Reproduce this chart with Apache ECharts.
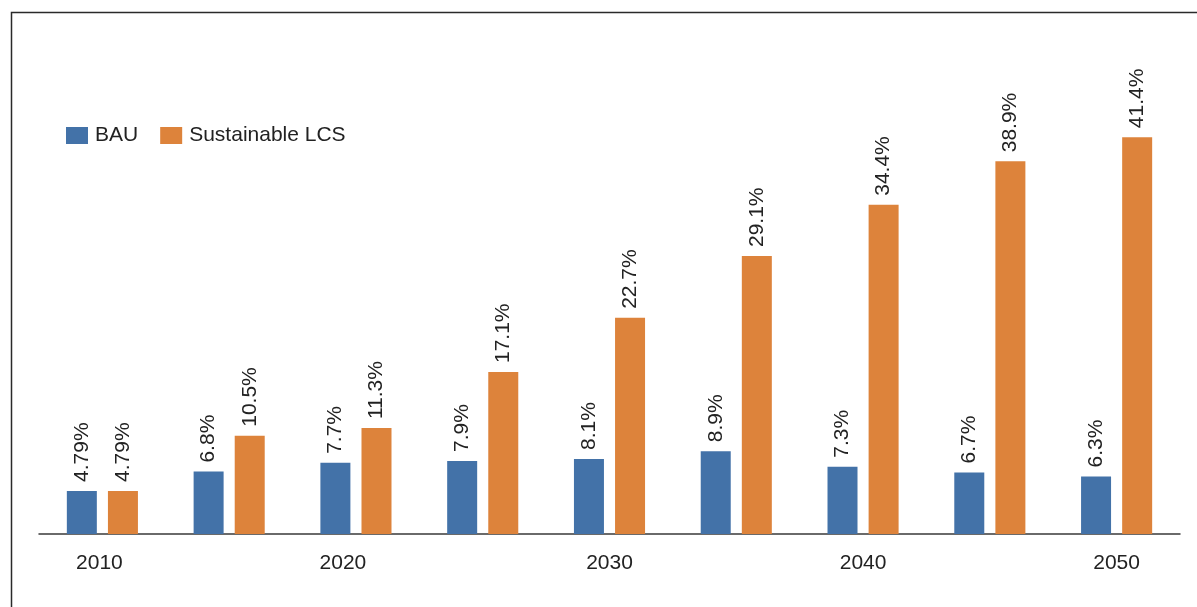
<!DOCTYPE html>
<html>
<head>
<meta charset="utf-8">
<script src="https://cdn.jsdelivr.net/npm/echarts@6/dist/echarts.min.js"></script>
<style>
html,body{margin:0;padding:0;background:#fff;}
#chart{width:1197px;height:607px;}
</style>
</head>
<body>
<div id="chart"></div>
<script>
const categories = ['2010','2015','2020','2025','2030','2035','2040','2045','2050'];
const bauValues = [4.79, 6.8, 7.7, 7.9, 8.1, 8.9, 7.3, 6.7, 6.3];
const lcsValues = [4.79, 10.5, 11.3, 17.1, 22.7, 29.1, 34.4, 38.9, 41.4];
const seriesNames = ['BAU', 'Sustainable LCS'];

const chart = echarts.init(document.getElementById('chart'), null, {renderer: 'canvas'});
const font = 'Liberation Sans, Arial, sans-serif';
const labelCfg = {
  show: true,
  position: 'top',
  rotate: 90,
  align: 'left',
  verticalAlign: 'middle',
  distance: 9,
  fontFamily: font,
  fontSize: 21,
  color: '#222',
  formatter: p => p.value + '%'
};
const catData = categories.map(c => c === '2020'
  ? {value: c, textStyle: {padding: [0, 26, 0, 0]}}
  : (c === '2010' ? {value: c, textStyle: {padding: [0, 6, 0, 0]}} : c));
chart.setOption({
  animation: false,
  backgroundColor: '#fff',
  graphic: [{
    type: 'rect',
    shape: {x: 11.5, y: 12.5, width: 1400, height: 800},
    style: {fill: 'none', stroke: '#2a2a2a', lineWidth: 1.5},
    silent: true
  }],
  legend: {
    left: 61,
    top: 120,
    icon: 'rect',
    itemWidth: 22,
    itemHeight: 17,
    itemGap: 22,
    textStyle: {fontFamily: font, fontSize: 21, color: '#222', padding: [0,0,0,2]},
    data: seriesNames
  },
  grid: {left: 39, right: 17, top: 54, bottom: 73},
  xAxis: {
    type: 'category',
    data: catData,
    axisLine: {lineStyle: {color: '#3a3a3a', width: 1.5}},
    axisTick: {show: false},
    axisLabel: {interval: 1, margin: 19, fontFamily: font, fontSize: 21, color: '#222'}
  },
  yAxis: {
    type: 'value',
    min: 0.34,
    max: 50,
    show: false,
    splitLine: {show: false}
  },
  series: [
    {name: seriesNames[0], type: 'bar', data: bauValues, barWidth: 30, barGap: '37%',
     itemStyle: {color: '#4372a8'}, label: labelCfg},
    {name: seriesNames[1], type: 'bar', data: lcsValues, barWidth: 30, barGap: '37%',
     itemStyle: {color: '#dd833b'}, label: labelCfg}
  ]
});
</script>
</body>
</html>
